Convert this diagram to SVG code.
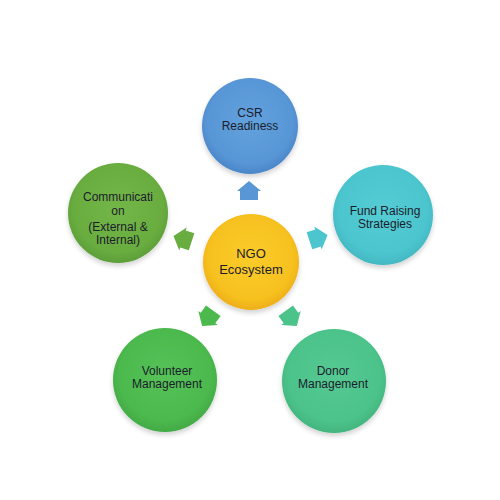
<svg xmlns="http://www.w3.org/2000/svg" width="500" height="500" viewBox="0 0 500 500">
<defs>
<radialGradient id="gBlue" cx="50%" cy="45%" r="55%"><stop offset="0" stop-color="#62a2dd"/><stop offset="0.8" stop-color="#5896d6"/><stop offset="1" stop-color="#4a86c8"/></radialGradient>
<radialGradient id="gYellow" cx="50%" cy="45%" r="55%"><stop offset="0" stop-color="#fbcc2a"/><stop offset="0.8" stop-color="#f6c11f"/><stop offset="1" stop-color="#eeae1a"/></radialGradient>
<radialGradient id="gGreen1" cx="50%" cy="45%" r="55%"><stop offset="0" stop-color="#73b648"/><stop offset="0.8" stop-color="#69ad40"/><stop offset="1" stop-color="#5c9e38"/></radialGradient>
<radialGradient id="gTeal" cx="50%" cy="45%" r="55%"><stop offset="0" stop-color="#55ccd4"/><stop offset="0.8" stop-color="#4cc5ce"/><stop offset="1" stop-color="#43b8c2"/></radialGradient>
<radialGradient id="gGreen2" cx="50%" cy="45%" r="55%"><stop offset="0" stop-color="#55c257"/><stop offset="0.8" stop-color="#4cb94d"/><stop offset="1" stop-color="#42aa45"/></radialGradient>
<radialGradient id="gMint" cx="50%" cy="45%" r="55%"><stop offset="0" stop-color="#55c992"/><stop offset="0.8" stop-color="#4cc38a"/><stop offset="1" stop-color="#42b57e"/></radialGradient>
<filter id="sh" x="-20%" y="-20%" width="140%" height="150%"><feGaussianBlur in="SourceAlpha" stdDeviation="2.5"/><feOffset dy="3"/><feComponentTransfer><feFuncA type="linear" slope="0.18"/></feComponentTransfer><feMerge><feMergeNode/><feMergeNode in="SourceGraphic"/></feMerge></filter>
<polygon id="arr" points="0,-10 12,0 9,0 9,9 -9,9 -9,0 -12,0"/>
</defs>
<style>
text{font-family:"Liberation Sans",Arial,sans-serif;font-size:12px;fill:#1c1c2c;text-anchor:middle}
.big{font-size:13px}
circle{filter:url(#sh)}
</style>
<rect width="500" height="500" fill="#ffffff"/>
<g id="connectors">
<use href="#arr" fill="#5896d6" transform="translate(249,191)"/>
<use href="#arr" fill="#69ad40" transform="translate(183,239) rotate(-72)"/>
<use href="#arr" fill="#4cc5ce" transform="translate(318,238) rotate(72)"/>
<use href="#arr" fill="#4cb94d" transform="translate(208,318) rotate(-144)"/>
<use href="#arr" fill="#4cc38a" transform="translate(291,318) rotate(144)"/>
</g>
<g id="ngo">
<circle cx="251" cy="262" r="48" fill="url(#gYellow)"/>
<text class="big" x="251" y="258">NGO</text>
<text class="big" x="251" y="274">Ecosystem</text>
</g>
<g id="csr">
<circle cx="250" cy="126" r="48" fill="url(#gBlue)"/>
<text x="250" y="117">CSR</text>
<text x="250" y="130">Readiness</text>
</g>
<g id="communication">
<circle cx="118" cy="213" r="50" fill="url(#gGreen1)"/>
<text x="118" y="201">Communicati</text>
<text x="118" y="215">on</text>
<text x="118" y="231">(External &amp;</text>
<text x="118" y="244">Internal)</text>
</g>
<g id="fund">
<circle cx="383" cy="215" r="50" fill="url(#gTeal)"/>
<text x="385" y="215">Fund Raising</text>
<text x="385" y="228">Strategies</text>
</g>
<g id="volunteer">
<circle cx="165" cy="380" r="52" fill="url(#gGreen2)"/>
<text x="167" y="375">Volunteer</text>
<text x="167" y="388">Management</text>
</g>
<g id="donor">
<circle cx="334" cy="381" r="52" fill="url(#gMint)"/>
<text x="333" y="375">Donor</text>
<text x="333" y="388">Management</text>
</g>
</svg>
